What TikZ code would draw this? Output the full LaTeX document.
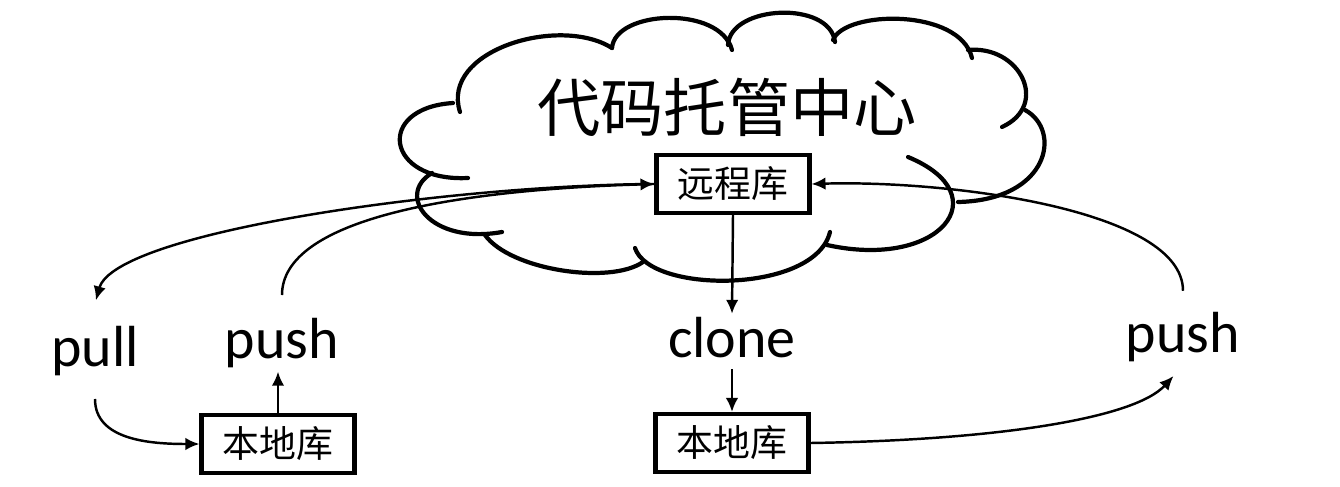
\documentclass[tikz,border=0pt]{standalone}
\usepackage{fontspec}
\setmainfont{Carlito}
\newfontfamily\cjk{Noto Sans CJK SC}
\usetikzlibrary{arrows.meta,calc}
\tikzset{
  repo/.style ={draw, line width=2.3pt, minimum width=3.06cm, minimum height=1.16cm,
                inner sep=0pt, font=\cjk\fontsize{21}{23}\selectfont},
  cmd/.style  ={font=\fontsize{33}{36}\selectfont, inner sep=2pt},
  ar/.style   ={-{Latex[length=2.8mm,width=2.5mm]}, line width=1.4pt},
  puff/.style ={line width=2.4pt, line cap=round},
}
\begin{document}
\begin{tikzpicture}[x=0.02cm,y=-0.02cm]
\useasboundingbox (0,0) rectangle (1340,487);
% hosting cloud, puff by puff (clockwise)
\draw[puff] (460,112) .. controls (440,50) and (560,15) .. (612,48);
\draw[puff] (612,48) .. controls (615,10) and (720,5) .. (732,50);
\draw[puff] (728,45) .. controls (730,5) and (830,0) .. (835,42);
\draw[puff] (833,40) .. controls (845,10) and (960,8) .. (972,58);
\draw[puff] (968,50) .. controls (1020,45) and (1050,105) .. (1002,127);
\draw[puff] (1025,110) .. controls (1062,130) and (1050,200) .. (958,202);
\draw[puff] (908,157) .. controls (1000,195) and (940,270) .. (827,245);
\draw[puff] (830,232) .. controls (815,294) and (650,294) .. (635,248);
\draw[puff] (485,235) .. controls (510,270) and (610,285) .. (643,262);
\draw[puff] (432,173) .. controls (395,195) and (430,245) .. (502,232);
\draw[puff] (453,103) .. controls (375,108) and (385,182) .. (468,178);
\node[font=\cjk\fontsize{36}{40}\selectfont] (title) at (727,107) {代码托管中心};

\node[repo] (remote) at (733,184) {远程库};
\node[repo] (localL) at (278,444) {本地库};
\node[repo] (localR) at (732,443) {本地库};

\node[cmd] (pull)  at (95,351)   {pull};
\node[cmd] (pushL) at (282,343)  {push};
\node[cmd] (clone) at (732,338)  {clone};
\node[cmd] (pushR) at (1183,337) {push};

% left side
\draw[ar, shorten >=13pt] (remote.west) .. controls (450,185) and (115,232) .. ([xshift=-3pt]pull.north);
\draw[ar, shorten <=11pt] (pushL.north) .. controls (282,220) and (450,190) .. (remote.west);
\draw[ar, shorten <=11pt] (pull.south) .. controls (95,440) and (150,444) .. (localL.west);
\draw[ar] (localL.north) -- (localL.north |- pushL.south);
% clone
\draw[ar] (remote.south) -- (clone.north);
\draw[ar, shorten <=4pt] (clone.south) -- (localR.north);
% right side
\draw[ar, shorten >=8pt] (localR.east) .. controls (1000,440) and (1135,418) .. (pushR.south);
\draw[ar, shorten <=10pt] (pushR.north) .. controls (1183,210) and (950,180) .. (remote.east);
\end{tikzpicture}
\end{document}
